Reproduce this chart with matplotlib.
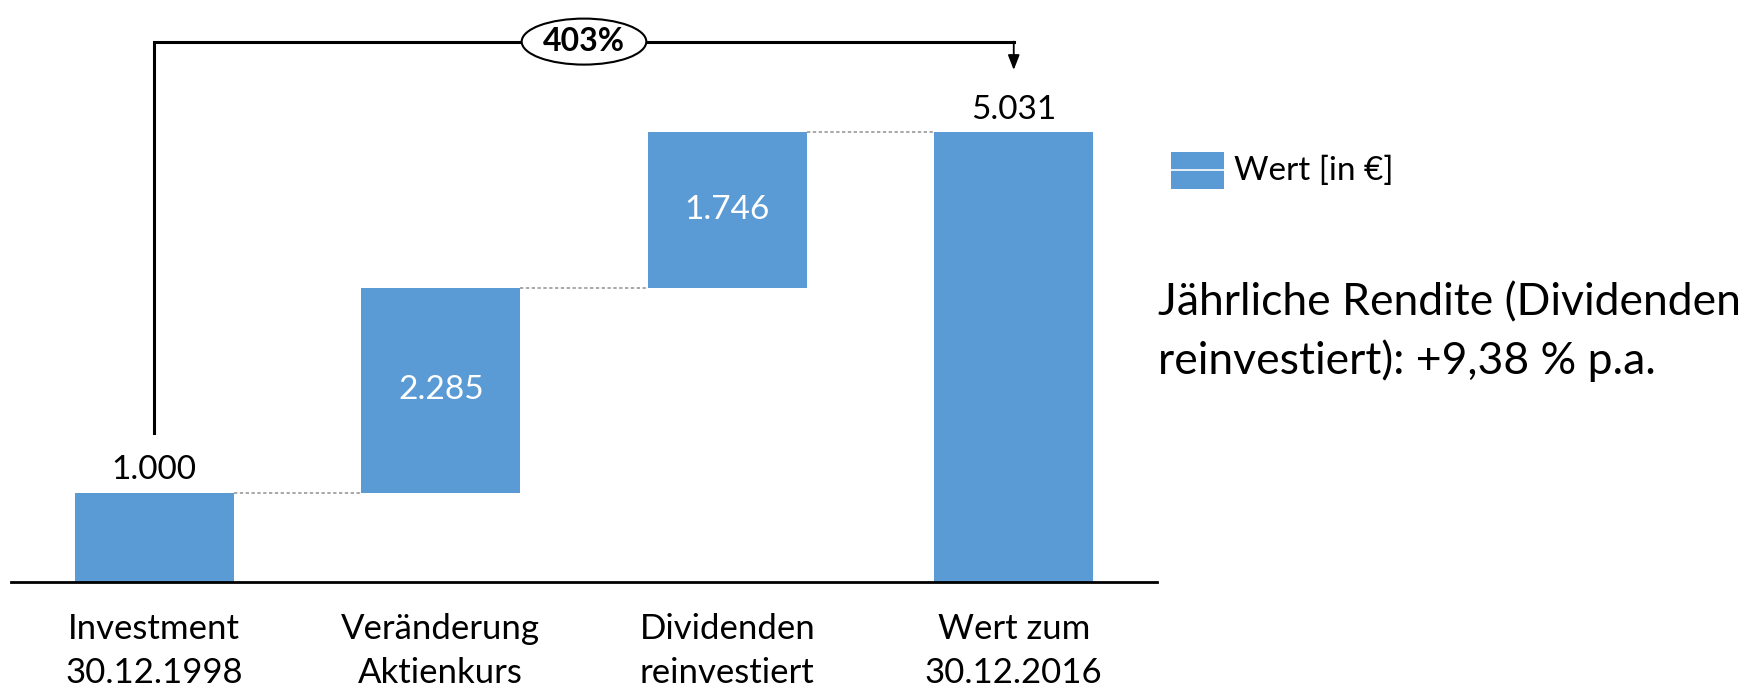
import matplotlib
matplotlib.use("Agg")
import matplotlib.pyplot as plt
from matplotlib.patches import Ellipse, Rectangle

plt.rcParams['font.family'] = ['Lato', 'DejaVu Sans']

categories = ["Investment\n30.12.1998", "Veränderung\nAktienkurs",
              "Dividenden\nreinvestiert", "Wert zum\n30.12.2016"]
values = [1000, 2285, 1746, 5031]
kinds = ["total", "delta", "delta", "total"]
value_labels = ["1.000", "2.285", "1.746", "5.031"]
growth_label = "403%"
legend_label = "Wert [in €]"
note = "Jährliche Rendite (Dividenden\nreinvestiert): +9,38 % p.a."

blue = "#5B9BD5"

W, H = 1764, 686
fig = plt.figure(figsize=(W / 100, H / 100), dpi=100)
ax = fig.add_axes([11 / W, (H - 582) / H, (1157 - 11) / W, 582 / H])
px_per_unit = (582 - 132) / 5031
ax.set_ylim(0, 582 / px_per_unit)
ax.set_xlim(-0.5, 3.5)

x = list(range(len(values)))
bottoms, tops = [], []
running = 0
for v, k in zip(values, kinds):
    if k == "total":
        b, t = 0, v
        running = v
    else:
        b, t = running, running + v
        running = t
    bottoms.append(b)
    tops.append(t)

width = 0.555
ax.bar(x, [t - b for b, t in zip(bottoms, tops)], bottom=bottoms,
       width=width, color=blue, zorder=2)

# connectors
for i in range(len(values) - 1):
    ax.plot([x[i] + width / 2, x[i + 1] - width / 2], [tops[i], tops[i]],
            color="#9a9a9a", lw=1.2, ls=(0, (2, 1.5)), zorder=1)

# labels
for i, (b, t, lab, k) in enumerate(zip(bottoms, tops, value_labels, kinds)):
    if k == "total":
        ax.annotate(lab, (x[i], t), xytext=(0, 16), textcoords="offset points",
                    ha="center", va="center", fontsize=24, color="black")
    else:
        ax.text(x[i], (b + t) / 2, lab, ha="center", va="center",
                fontsize=24, color="white")

# bracket
ytop = (582 - 41.6) / px_per_unit
yleft = (582 - 433) / px_per_unit
yarrow = (582 - 70) / px_per_unit
ax.plot([x[0], x[0], x[-1], x[-1]], [yleft, ytop, ytop, ytop],
        color="black", lw=2.2, solid_joinstyle="miter", zorder=3)
ax.annotate("", xy=(x[-1], yarrow), xytext=(x[-1], ytop),
            arrowprops=dict(arrowstyle="-|>,head_width=0.35,head_length=0.9",
                            color="black", lw=1.3, shrinkA=0, shrinkB=0))
mid = (x[0] + x[-1]) / 2
ax.add_patch(Ellipse((mid, ytop), 0.435, 46 / px_per_unit, facecolor="white",
                     edgecolor="black", lw=1.5, zorder=4))
ax.text(mid, ytop, growth_label, ha="center", va="center", fontsize=23,
        fontweight="bold", zorder=5)

ax.set_xticks(x)
ax.set_xticklabels(categories, fontsize=25, linespacing=1.47)
ax.tick_params(axis="x", length=0, pad=22)
ax.set_yticks([])
for s in ["top", "right", "left"]:
    ax.spines[s].set_visible(False)
ax.spines["bottom"].set_linewidth(2)
ax.spines["bottom"].set_zorder(3)

# legend (manual)
lx0, lx1, ly0, ly1 = 1171, 1224, 152, 189
fig.add_artist(Rectangle((lx0 / W, (H - ly1) / H), (lx1 - lx0) / W, (ly1 - ly0) / H,
                         transform=fig.transFigure, facecolor=blue, edgecolor="none"))
fig.add_artist(plt.Line2D([lx0 / W, lx1 / W], [(H - 170) / H, (H - 170) / H],
                          transform=fig.transFigure, color="white", lw=1.2))
fig.text(1234 / W, (H - 171) / H, legend_label, ha="left", va="center", fontsize=24)

fig.text(1158 / W, (H - 332) / H, note, ha="left", va="center", fontsize=32,
         linespacing=1.45)

fig.savefig("out.png", dpi=100)
